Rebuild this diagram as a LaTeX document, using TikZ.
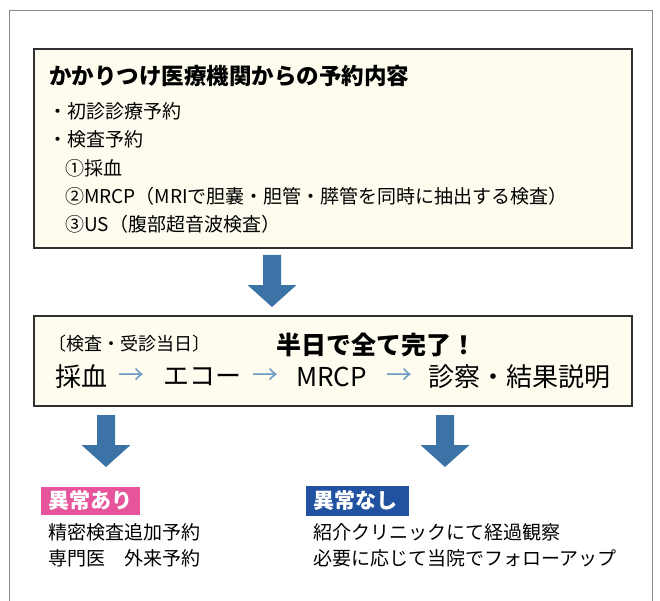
\documentclass[tikz,border=0pt]{standalone}
\usepackage{fontspec}
\setmainfont{Noto Sans CJK JP}
\definecolor{boxfill}{HTML}{FEFCEE}
\definecolor{boxline}{HTML}{303030}
\definecolor{framegray}{HTML}{8A8A8A}
\definecolor{arrowblue}{HTML}{3B73A6}
\definecolor{lightarrow}{HTML}{6F9CC4}
\definecolor{tagpink}{HTML}{E6559B}
\definecolor{tagblue}{HTML}{2151A1}
\tikzset{
  infobox/.style={draw=boxline, line width=1.6pt, fill=boxfill},
  txt/.style={anchor=west, inner sep=0pt},
  bodytxt/.style={txt, font=\fontsize{19}{23}\selectfont},
  bigtxt/.style={txt, font=\fontsize{26}{30}\selectfont},
  tagtxt/.style={txt, text=white, font=\bfseries\fontsize{21}{25}\selectfont},
  downarr/.pic={\fill[arrowblue] (-9,0) -- (9,0) -- (9,30) -- (24.5,30) -- (0,52) -- (-24.5,30) -- (-9,30) -- cycle;}
}
\begin{document}
\begin{tikzpicture}[x=1pt,y=-1pt]
\useasboundingbox (0,0) rectangle (660,601);
\draw[framegray, line width=1pt] (9.5,601) -- (9.5,10.5) -- (652.5,10.5) -- (652.5,601);
% box 1
\node[infobox, minimum width=598pt, minimum height=199pt, anchor=north west, inner sep=0pt] (box1) at (33,48) {};
\node[txt, font=\bfseries\fontsize{22.5}{26}\selectfont] (title) at (49,76) {かかりつけ医療機関からの予約内容};
\node[bodytxt] (l1) at (48,111) {・初診診療予約};
\node[bodytxt] (l2) at (48,139.5) {・検査予約};
\node[bodytxt] (l3) at (65,168) {①採血};
\node[bodytxt] (l4) at (65,196) {②MRCP（MRIで胆嚢・胆管・膵管を同時に抽出する検査）};
\node[bodytxt] (l5) at (65,224.5) {③US（腹部超音波検査）};
% arrow 1
\pic at (272,255) {downarr};
% box 2
\node[infobox, minimum width=598pt, minimum height=90pt, anchor=north west, inner sep=0pt] (box2) at (33,315) {};
\node[txt, font=\fontsize{18}{22}\selectfont] (day) at (48,344) {〔検査・受診当日〕};
\node[txt, font=\bfseries\fontsize{25}{30}\selectfont] (half) at (276,345) {半日で全て完了！};
\node[bigtxt] (s1) at (55,377) {採血};
\node[bigtxt, text=lightarrow] (a1) at (118,377) {→};
\node[bigtxt] (s2) at (163,377) {エコー};
\node[bigtxt, text=lightarrow] (a2) at (252,377) {→};
\node[bigtxt] (s3) at (296,377) {MRCP};
\node[bigtxt, text=lightarrow] (a3) at (386,377) {→};
\node[bigtxt] (s4) at (428,377) {診察・結果説明};
% arrows 2,3
\pic at (106,415) {downarr};
\pic at (445,415) {downarr};
% results
\fill[tagpink] (41,487) rectangle (140,515);
\node[tagtxt] (tagA) at (48,501) {異常あり};
\fill[tagblue] (306,486) rectangle (409,516);
\node[tagtxt] (tagB) at (313,501) {異常なし};
\node[bodytxt] (r1) at (48,532) {精密検査追加予約};
\node[bodytxt] (r2) at (48,558) {専門医　外来予約};
\node[bodytxt] (r3) at (313,532) {紹介クリニックにて経過観察};
\node[bodytxt] (r4) at (313,558) {必要に応じて当院でフォローアップ};
\end{tikzpicture}
\end{document}
